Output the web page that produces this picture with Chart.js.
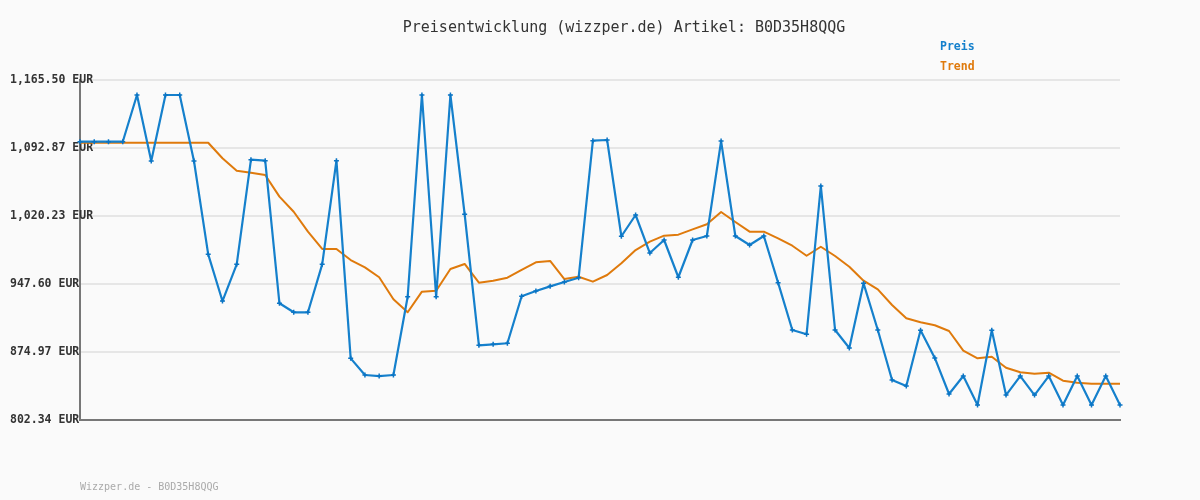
<!DOCTYPE html>
<html lang="de">
<head>
  <meta charset="UTF-8">
  <title>Preisentwicklung B0D35H8QQG</title>
  <script src="https://cdn.jsdelivr.net/npm/chart.js"></script>
  <style>
    body { margin: 0; background: #fafafa; }
    canvas { display: block; }
  </style>
</head>
<body>
  <canvas id="chart" width="1200" height="500"></canvas>
  <script>

const titleText = 'Preisentwicklung (wizzper.de) Artikel: B0D35H8QQG';
const footerText = 'Wizzper.de - B0D35H8QQG';

// one entry per recorded price
const categories = Array.from({ length: 74 }, (_, i) => String(i + 1));

const preis = [
  1099.6, 1099.6, 1099.6, 1099.6, 1149.5, 1079.0, 1149.5, 1149.5, 1079.0, 979.3,
  929.4, 968.6, 1080.4, 1079.3, 927.0, 917.4, 917.4, 968.6, 1079.3, 868.2,
  850.4, 849.3, 850.4, 934.0, 1149.5, 934.0, 1149.5, 1022.1, 882.1, 883.2,
  884.3, 934.5, 940.1, 945.1, 949.7, 954.3, 1100.7, 1101.4, 998.6, 1021.3,
  980.7, 994.6, 954.8, 994.6, 998.9, 1100.3, 998.9, 989.3, 998.9, 949.0,
  898.5, 893.9, 1052.3, 898.5, 879.2, 948.3, 898.5, 845.1, 838.7, 898.2,
  868.6, 830.1, 849.3, 818.4, 898.2, 829.0, 849.3, 829.0, 849.3, 818.4,
  849.3, 818.4, 849.3, 818.4
];

const trend = [
  1098.5, 1098.5, 1098.5, 1098.5, 1098.5, 1098.5, 1098.5, 1098.5, 1098.5, 1098.5,
  1081.9, 1068.6, 1066.5, 1064.0, 1040.9, 1024.8, 1003.5, 985.0, 985.0, 973.2,
  965.4, 954.8, 931.3, 917.4, 939.4, 940.4, 963.6, 969.0, 949.0, 951.1,
  954.3, 962.6, 970.8, 972.2, 952.9, 955.4, 950.1, 957.2, 969.7, 983.9,
  992.8, 999.2, 1000.3, 1006.0, 1011.4, 1024.5, 1013.8, 1003.5, 1003.5, 996.4,
  988.5, 977.8, 987.4, 977.5, 966.1, 951.1, 941.9, 925.2, 911.0, 906.7,
  903.5, 897.4, 876.4, 868.2, 869.9, 858.2, 853.3, 851.8, 852.9, 844.3,
  842.2, 841.1, 841.1, 841.1
];

const yTicks = [802.34, 874.97, 947.60, 1020.23, 1092.87, 1165.50];

const mono = '"DejaVu Sans Mono", monospace';

// background, title, text legend and footer
const decor = {
  id: 'decor',
  beforeDraw(chart) {
    const ctx = chart.ctx;
    ctx.save();
    ctx.fillStyle = '#fafafa';
    ctx.fillRect(0, 0, chart.width, chart.height);
    ctx.restore();
  },
  afterDraw(chart) {
    const ctx = chart.ctx;
    ctx.save();
    ctx.textBaseline = 'middle';

    ctx.font = '15px ' + mono;
    ctx.fillStyle = '#333';
    ctx.textAlign = 'center';
    ctx.fillText(titleText, 624, 28);

    ctx.font = 'bold 11.5px ' + mono;
    ctx.textAlign = 'left';
    chart.data.datasets.forEach((ds, i) => {
      ctx.fillStyle = ds.borderColor;
      ctx.fillText(ds.label, 940, 47 + i * 20);
    });

    ctx.font = '10px ' + mono;
    ctx.fillStyle = '#aaa';
    ctx.fillText(footerText, 80, 487);
    ctx.restore();
  }
};

const ctx = document.getElementById('chart');

new Chart(ctx, {
  type: 'line',
  data: {
    labels: categories,
    datasets: [
      {
        label: 'Preis',
        data: preis,
        borderColor: '#1580cc',
        backgroundColor: '#0a74c4',
        borderWidth: 2.2,
        borderJoinStyle: 'round',
        pointStyle: 'cross',
        pointRadius: 2.5,
        pointBorderWidth: 1.5,
        pointBorderColor: '#0a74c4',
        tension: 0,
        fill: false
      },
      {
        label: 'Trend',
        data: trend,
        borderColor: '#df7a0c',
        borderWidth: 2,
        borderJoinStyle: 'round',
        pointRadius: 0,
        tension: 0,
        fill: false
      }
    ]
  },
  options: {
    responsive: false,
    animation: false,
    layout: { padding: { top: 80, left: 10, right: 80, bottom: 80 } },
    plugins: {
      legend: { display: false },
      title: { display: false },
      tooltip: { enabled: false }
    },
    scales: {
      x: {
        type: 'category',
        offset: false,
        ticks: { display: false },
        grid: { display: false },
        border: { display: true, color: '#777', width: 2 },
        afterFit(scale) { scale.height = 0; }
      },
      y: {
        min: 802.34,
        max: 1165.50,
        afterBuildTicks(scale) {
          scale.ticks = yTicks.map(v => ({ value: v }));
        },
        afterFit(scale) { scale.width = 70; },
        ticks: {
          mirror: true,
          crossAlign: 'near',
          padding: -70,
          color: '#333',
          font: { family: mono, size: 11.5, weight: 'bold' },
          callback: v => v.toLocaleString('en-US', { minimumFractionDigits: 2, maximumFractionDigits: 2 }) + ' EUR'
        },
        grid: { color: '#e6e6e6', lineWidth: 2, drawTicks: false },
        border: { display: true, color: '#777', width: 2 }
      }
    }
  },
  plugins: [decor]
});

  </script>
</body>
</html>
